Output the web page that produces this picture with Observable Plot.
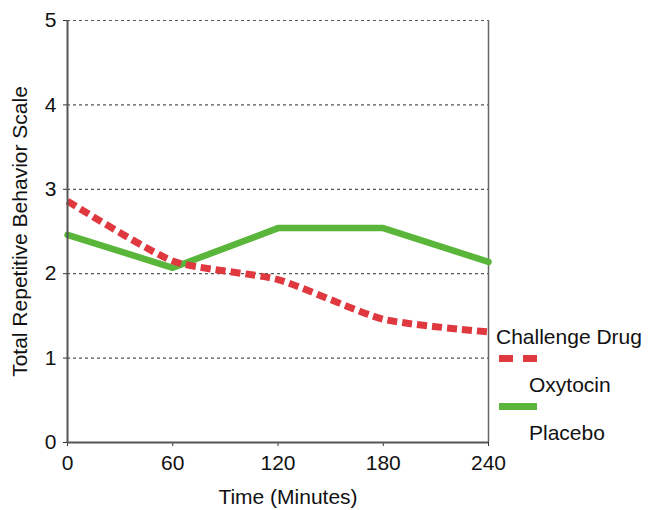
<!DOCTYPE html>
<html><head><meta charset="utf-8">
<script src="https://cdn.jsdelivr.net/npm/d3@7"></script>
<script src="https://cdn.jsdelivr.net/npm/@observablehq/plot@0.6"></script>
<style>
body{margin:0;background:#fff;font-family:"Liberation Sans",Arial,sans-serif;}
#wrap{position:relative;width:648px;height:510px;}
.lg{position:absolute;font-size:21px;color:#111;white-space:nowrap;}
.sw{position:absolute;width:38px;height:0;}
svg text{font-size:21px;}
</style></head>
<body><div id="wrap"></div>
<script>
const times = [0, 60, 120, 180, 240];
const oxytocin = [2.86, 2.15, 1.93, 1.46, 1.31];
const placebo = [2.46, 2.07, 2.54, 2.54, 2.14];
const yTicks = [0, 1, 2, 3, 4, 5];
const gridTicks = [1, 2, 3, 4, 5];
const legendLabels = ["Challenge Drug", "Oxytocin", "Placebo"];

const oxy = times.map((t, i) => ({t, v: oxytocin[i]}));
const pla = times.map((t, i) => ({t, v: placebo[i]}));

const chart = Plot.plot({
  width: 648, height: 510,
  marginLeft: 67, marginRight: 160, marginTop: 20, marginBottom: 68,
  style: {fontFamily: '"Liberation Sans", Arial, sans-serif', fontSize: "21px", color: "#111", background: "#fff"},
  x: {domain: [0, 240]},
  y: {domain: [0, 5]},
  marks: [
    Plot.ruleY(gridTicks, {stroke: "#555", strokeDasharray: "3,3", strokeWidth: 1.2}),
    Plot.ruleX([240], {stroke: "#666", strokeWidth: 1.5}),
    Plot.line(pla, {x: "t", y: "v", stroke: "#5ab63a", strokeWidth: 6.5}),
    Plot.line(oxy, {x: "t", y: "v", stroke: "#e0383f", strokeWidth: 7, strokeDasharray: "10,5", strokeLinecap: "butt", curve: "cardinal", tension: 0.4}),
    Plot.axisY({ticks: yTicks, tickFormat: d3.format("d"), tickSize: 4, tickPadding: 7, stroke: "#333", label: null}),
    Plot.axisX({ticks: times, tickSize: 4, tickPadding: 9, stroke: "#333", label: null}),
    Plot.ruleX([0], {stroke: "#555", strokeWidth: 2}),
    Plot.ruleY([0], {stroke: "#555", strokeWidth: 2}),
    Plot.text(["Time (Minutes)"], {frameAnchor: "bottom", lineAnchor: "middle", dy: 55, fontSize: 22, fill: "#111", dx: 10}),
    Plot.text(["Total Repetitive Behavior Scale"], {frameAnchor: "left", textAnchor: "middle", lineAnchor: "middle", dx: -47, rotate: -90, fontSize: 22, fill: "#111"})
  ]
});
const wrap = document.getElementById("wrap");
wrap.appendChild(chart);

function addText(txt, x, y){const d=document.createElement("div");d.className="lg";d.textContent=txt;d.style.left=x+"px";d.style.top=y+"px";wrap.appendChild(d);}
function addSw(x, y, style){const d=document.createElement("div");d.className="sw";d.style.left=x+"px";d.style.top=y+"px";d.style.borderTop=style;wrap.appendChild(d);}
addText(legendLabels[0], 496, 325);
addSw(499, 355, "7px dashed #e0383f");
addText(legendLabels[1], 529, 373);
addSw(499, 403, "7px solid #5ab63a");
addText(legendLabels[2], 529, 421);
</script></body></html>
